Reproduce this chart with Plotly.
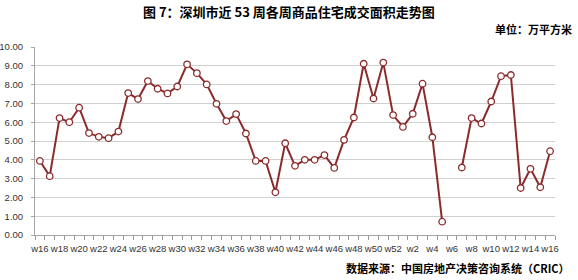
import plotly.graph_objects as go

weeks = [f"w{i}" for i in range(16, 53)] + [f"w{i}" for i in range(1, 17)]
values = [3.94, 3.13, 6.22, 6.00, 6.77, 5.42, 5.22, 5.15, 5.50, 7.55,
          7.23, 8.19, 7.78, 7.53, 7.90, 9.08, 8.61, 8.01, 6.98, 6.06,
          6.43, 5.40, 3.94, 3.94, 2.27, 4.88, 3.68, 4.00, 4.00, 4.25,
          3.57, 5.06, 6.25, 9.11, 7.26, 9.17, 6.38,
          5.75, 6.45, 8.05, 5.20, 0.71, None, 3.59, 6.22, 5.93, 7.10,
          8.45, 8.51, 2.50, 3.52, 2.54, 4.46]
y_ticks = [0, 1, 2, 3, 4, 5, 6, 7, 8, 9, 10]

idx = list(range(len(weeks)))
tick_idx = idx[::2]
tick_text = [weeks[i] for i in tick_idx]

line_color = "#8B2B2B"

fig = go.Figure()
fig.add_trace(go.Scatter(
    x=idx, y=values, mode="lines+markers",
    line=dict(color=line_color, width=2),
    marker=dict(size=6.5, color="white", line=dict(color=line_color, width=1.3)),
    connectgaps=False, hoverinfo="skip", showlegend=False,
))

fig.update_layout(
    width=578, height=280,
    margin=dict(l=35, r=23, t=47, b=45),
    paper_bgcolor="white", plot_bgcolor="white",
    font=dict(family="Liberation Sans, Arial, sans-serif", size=10, color="#333333"),
    xaxis=dict(
        range=[-0.5, len(weeks) - 0.5], automargin=False,
        tickmode="array", tickvals=tick_idx, ticktext=tick_text,
        tickangle=0, ticks="", showgrid=False, zeroline=False,
        showline=True, linecolor="#a6a6a6", linewidth=1,
        ticklabelstandoff=5,
        tickfont=dict(size=9.5, color="#333333"),
        minor=dict(tickmode="linear", tick0=-0.5, dtick=1, ticks="outside",
                   ticklen=4, tickcolor="#999999", tickwidth=1, showgrid=False),
    ),
    yaxis=dict(
        range=[0, 10], automargin=False, tickmode="array", tickvals=y_ticks,
        ticktext=[f"{v:.2f}" for v in y_ticks],
        showgrid=True, gridcolor="#d0d0d0", gridwidth=1,
        zeroline=False, showline=True, linecolor="#a6a6a6", linewidth=1,
        ticks="outside", ticklen=3, tickcolor="#a6a6a6",
        ticklabelstandoff=6,
        tickfont=dict(size=9.5, color="#333333"),
    ),
)

cjk = "Noto Sans CJK SC"
fig.add_annotation(text="<b>图 7：深圳市近 53 周各周商品住宅成交面积走势图</b>",
                   xref="paper", yref="paper", x=(289 - 35) / 520, y=1,
                   xanchor="center", yanchor="middle", yshift=47 - 11,
                   showarrow=False, font=dict(family=cjk, size=13, color="#000000"))
fig.add_annotation(text="<b>单位：万平方米</b>",
                   xref="paper", yref="paper", x=(574 - 35) / 520, y=1,
                   xanchor="right", yanchor="middle", yshift=47 - 29,
                   showarrow=False, font=dict(family=cjk, size=11, color="#000000"))
fig.add_annotation(text="<b>数据来源：中国房地产决策咨询系统（CRIC）</b>",
                   xref="paper", yref="paper", x=(572 - 35) / 520, y=0,
                   xanchor="right", yanchor="middle", yshift=-(268 - 235),
                   showarrow=False, font=dict(family=cjk, size=11, color="#000000"))

fig.write_html("out.html")
